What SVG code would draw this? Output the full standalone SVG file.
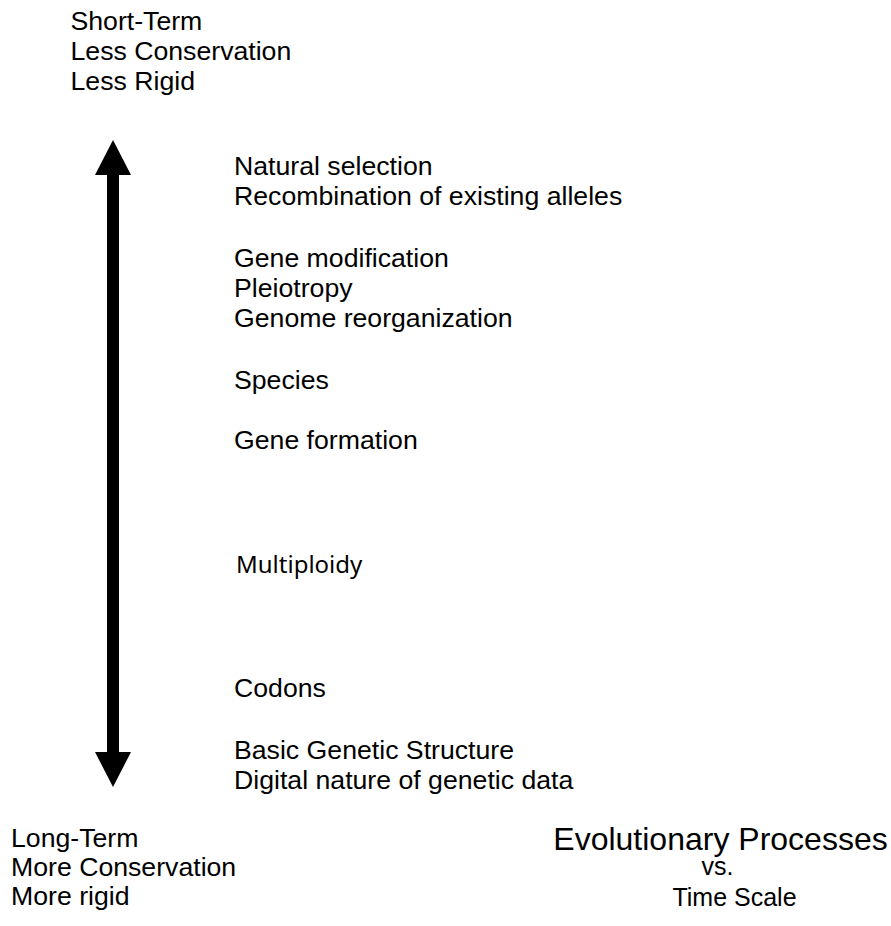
<svg xmlns="http://www.w3.org/2000/svg" width="891" height="926" viewBox="0 0 891 926">
  <style>
    .t { font-family: "Liberation Sans", Arial, sans-serif; font-size: 26.67px; fill: #000; }
    .title { font-family: "Liberation Sans", Arial, sans-serif; font-size: 32px; fill: #000; }
    .sub { font-family: "Liberation Sans", Arial, sans-serif; font-size: 25px; fill: #000; }
    .alt { font-family: "Noto Sans", "Open Sans", sans-serif; font-size: 24px; fill: #000; }
  </style>
  <defs>
    <marker id="head" viewBox="0 -18 35 36" markerWidth="35" markerHeight="36" refX="0" refY="0" markerUnits="userSpaceOnUse" orient="auto-start-reverse">
      <path d="M0,-18 L35,0 L0,18 Z" fill="#000"/>
    </marker>
  </defs>
  <rect width="891" height="926" fill="#fff"/>

  <g id="connectors">
    <line x1="113" y1="175" x2="113" y2="752" stroke="#000" stroke-width="12" marker-start="url(#head)" marker-end="url(#head)"/>
  </g>

  <g id="short-term">
    <text class="t" x="70.5" y="30">Short-Term</text>
    <text class="t" x="70.5" y="60">Less Conservation</text>
    <text class="t" x="70.5" y="89.5">Less Rigid</text>
  </g>

  <g id="natural-selection">
    <text class="t" x="234" y="175">Natural selection</text>
    <text class="t" x="234" y="205">Recombination of existing alleles</text>
  </g>

  <g id="gene-modification">
    <text class="t" x="234" y="267">Gene modification</text>
    <text class="t" x="234" y="297">Pleiotropy</text>
    <text class="t" x="234" y="327">Genome reorganization</text>
  </g>

  <g id="species">
    <text class="t" x="234" y="389">Species</text>
  </g>

  <g id="gene-formation">
    <text class="t" x="234" y="449">Gene formation</text>
  </g>

  <g id="multiploidy">
    <text class="alt" x="236" y="573">Multiploidy</text>
  </g>

  <g id="codons">
    <text class="t" x="234" y="697">Codons</text>
  </g>

  <g id="basic-genetic-structure">
    <text class="t" x="234" y="759">Basic Genetic Structure</text>
    <text class="t" x="234" y="789">Digital nature of genetic data</text>
  </g>

  <g id="long-term">
    <text class="t" x="11" y="846.5">Long-Term</text>
    <text class="t" x="11" y="875.5">More Conservation</text>
    <text class="t" x="11" y="904.5">More rigid</text>
  </g>

  <g id="title">
    <text class="title" x="720.5" y="849.5" text-anchor="middle">Evolutionary Processes</text>
    <text class="sub" x="717.5" y="874.5" text-anchor="middle">vs.</text>
    <text class="sub" x="734.5" y="906" text-anchor="middle">Time Scale</text>
  </g>
</svg>
